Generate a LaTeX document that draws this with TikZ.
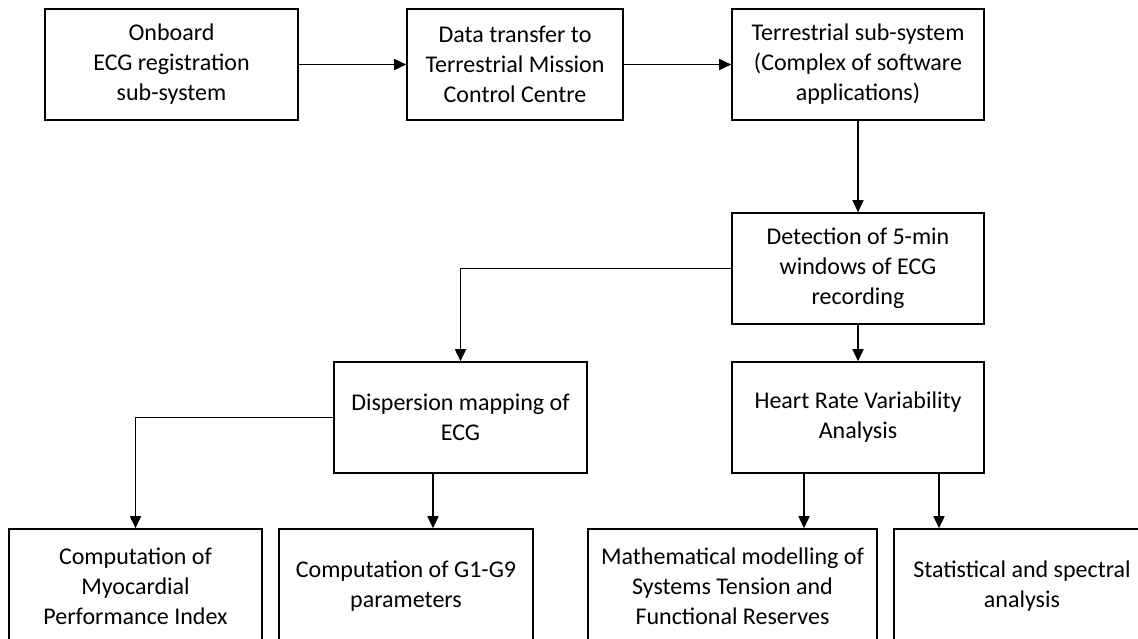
\documentclass[tikz,border=0pt]{standalone}
\usepackage{fontspec}
\setmainfont{Carlito}
\usetikzlibrary{arrows.meta}

\tikzset{
  stepbox/.style={draw=black, line width=1.6pt, fill=white, align=center,
    inner sep=0pt, minimum height=111pt,
    font=\fontsize{24}{30}\selectfont},
  cutbox/.style={stepbox, minimum height=114pt},
  arr/.style={draw=black, line width=1.6pt,
    -{Triangle[width=11pt,length=12pt]}}
}

\begin{document}
\begin{tikzpicture}[x=1pt, y=-1pt]
  \useasboundingbox (0,0) rectangle (1138,639);
  \clip (0,0) rectangle (1138,639);

  % top row
  \node[stepbox, minimum width=253pt] (onb) at (171.5,64.5)
    {Onboard\\ECG registration\\sub-system};
  \node[stepbox, minimum width=216pt] (dtr) at (515,64.5)
    {Data transfer to\\Terrestrial Mission\\Control Centre};
  \node[stepbox, minimum width=252pt] (ter) at (858,64.5)
    {Terrestrial sub-system\\(Complex of software\\applications)};

  % processing
  \node[stepbox, minimum width=252pt] (det) at (858,268.5)
    {Detection of 5-min\\windows of ECG\\recording};
  \node[stepbox, minimum width=253pt] (dis) at (460.5,417.5)
    {Dispersion mapping of\\ECG};
  \node[stepbox, minimum width=252pt] (hrv) at (858,417.5)
    {Heart Rate Variability\\Analysis};

  % bottom row (runs past the lower edge)
  \node[cutbox, minimum width=253pt] (myo) at (135.5,586)
    {Computation of\\Myocardial\\Performance Index};
  \node[cutbox, minimum width=254pt] (gpar) at (406,586)
    {Computation of G1-G9\\parameters};
  \node[cutbox, minimum width=289pt] (mat) at (732.5,586)
    {Mathematical modelling of\\Systems Tension and\\Functional Reserves};
  \node[cutbox, minimum width=256pt] (sta) at (1022,586)
    {Statistical and spectral\\analysis};

  % connectors
  \draw[arr] (onb.east) -- (dtr.west);
  \draw[arr] (dtr.east) -- (ter.west);
  \draw[arr] (ter.south) -- (det.north);
  \draw[arr] (det.west) -| (dis.north);
  \draw[arr] (det.south) -- (hrv.north);
  \draw[arr] (dis.west) -| (myo.north);
  \draw[arr] ([xshift=-27.5pt]dis.south) coordinate (dg) -- (dg |- gpar.north);
  \draw[arr] ([xshift=-54pt]hrv.south) coordinate (hm) -- (hm |- mat.north);
  \draw[arr] ([xshift=81pt]hrv.south) coordinate (hs) -- (hs |- sta.north);
\end{tikzpicture}
\end{document}
